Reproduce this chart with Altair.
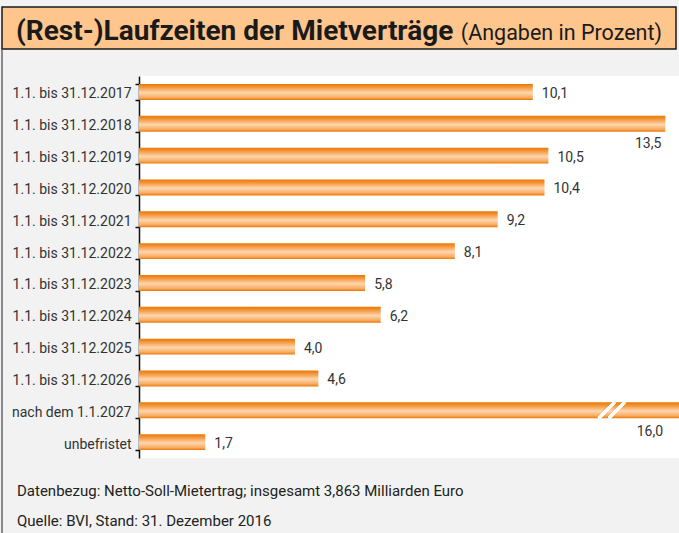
import altair as alt
import pandas as pd

categories = [
    "1.1. bis 31.12.2017", "1.1. bis 31.12.2018", "1.1. bis 31.12.2019",
    "1.1. bis 31.12.2020", "1.1. bis 31.12.2021", "1.1. bis 31.12.2022",
    "1.1. bis 31.12.2023", "1.1. bis 31.12.2024", "1.1. bis 31.12.2025",
    "1.1. bis 31.12.2026", "nach dem 1.1.2027", "unbefristet",
]
values = [10.1, 13.5, 10.5, 10.4, 9.2, 8.1, 5.8, 6.2, 4.0, 4.6, 16.0, 1.7]
labels = [f"{v:.1f}".replace(".", ",") for v in values]

title_main = "(Rest-)Laufzeiten der Mietverträge"
title_sub = "(Angaben in Prozent)"
note1 = "Datenbezug: Netto-Soll-Mietertrag; insgesamt 3,863 Milliarden Euro"
note2 = "Quelle: BVI, Stand: 31. Dezember 2016"

df = pd.DataFrame({"cat": categories, "val": values, "lab": labels})

FONT = "Roboto, sans-serif"

xscale = alt.Scale(domain=[0, 13.85], nice=False, clamp=True)
yscale = alt.Scale(domain=categories, paddingInner=0.5, paddingOuter=0.25)

grad = alt.Gradient(
    gradient="linear",
    x1=0, x2=0, y1=0, y2=1,
    stops=[
        alt.GradientStop(color="#ec7700", offset=0),
        alt.GradientStop(color="#f39438", offset=0.2),
        alt.GradientStop(color="#ffd6ad", offset=0.55),
        alt.GradientStop(color="#f8ab63", offset=0.85),
        alt.GradientStop(color="#ec7700", offset=1),
    ],
)

base = alt.Chart(df)

bars = base.mark_bar(color=grad, clip=True).encode(
    x=alt.X("val:Q", scale=xscale, axis=None),
    y=alt.Y(
        "cat:N", scale=yscale, sort=categories, title=None,
        axis=alt.Axis(
            domainColor="#111", domainWidth=1.5, tickColor="#111", tickWidth=1.5,
            tickSize=4, tickBand="extent", labelPadding=4, labelFontSize=14,
            labelColor="#333", labelFont=FONT, labelFontWeight="normal",
            labelOffset=2,
        ),
    ),
)

normal = base.transform_filter("datum.val < 13").mark_text(
    align="left", baseline="middle", dx=9, dy=2, fontSize=14, color="#333", font=FONT
).encode(x=alt.X("val:Q", scale=xscale), y=alt.Y("cat:N", scale=yscale, sort=categories), text="lab:N")

lab135 = base.transform_filter("datum.val >= 13 && datum.val < 15").mark_text(
    align="right", baseline="middle", dx=-4, dy=20, fontSize=14, color="#333", font=FONT
).encode(x=alt.X("val:Q", scale=xscale), y=alt.Y("cat:N", scale=yscale, sort=categories), text="lab:N")

lab16 = base.transform_filter("datum.val >= 15").mark_text(
    align="right", baseline="middle", dx=-16, dy=22, fontSize=14, color="#333", font=FONT
).encode(x=alt.X("val:Q", scale=xscale), y=alt.Y("cat:N", scale=yscale, sort=categories), text="lab:N")

brk1 = base.mark_rule(color="white", strokeWidth=2.5, yOffset=8, y2Offset=-8).encode(
    x=alt.datum(11.79), x2=alt.datum(12.2),
    y=alt.datum("nach dem 1.1.2027"), y2=alt.datum("nach dem 1.1.2027"),
)
brk2 = base.mark_rule(color="white", strokeWidth=2.5, yOffset=8, y2Offset=-8).encode(
    x=alt.datum(12.05), x2=alt.datum(12.46),
    y=alt.datum("nach dem 1.1.2027"), y2=alt.datum("nach dem 1.1.2027"),
)

deco = alt.Chart(pd.DataFrame({"a": [0]}))
band = deco.mark_rect(fill="#fec58d", stroke="#1a1a1a", strokeWidth=1.5).encode(
    x=alt.value(-137), x2=alt.value(537), y=alt.value(-69), y2=alt.value(-27)
)
leftline = deco.mark_rule(color="#666", strokeWidth=1.5).encode(
    x=alt.value(-137), y=alt.value(-27), y2=alt.value(457)
)
t_main = deco.mark_text(
    align="left", baseline="alphabetic", fontSize=28, fontWeight="bold", color="#1a1a1a", font=FONT
).encode(x=alt.value(-123), y=alt.value(-36), text=alt.value(title_main))
t_sub = deco.mark_text(
    align="right", baseline="alphabetic", fontSize=21.5, color="#1a1a1a", font=FONT
).encode(x=alt.value(523), y=alt.value(-36), text=alt.value(title_sub))
n1 = deco.mark_text(
    align="left", baseline="alphabetic", fontSize=15, color="#222", font=FONT
).encode(x=alt.value(-122), y=alt.value(420), text=alt.value(note1))
n2 = deco.mark_text(
    align="left", baseline="alphabetic", fontSize=15, color="#222", font=FONT
).encode(x=alt.value(-122), y=alt.value(450), text=alt.value(note2))

chart = alt.layer(
    bars, brk1, brk2, normal, lab135, lab16, band, leftline, t_main, t_sub, n1, n2
).properties(
    width=540, height=382,
    autosize=alt.AutoSizeParams(type="none"),
    padding={"left": 139, "top": 76, "right": 0, "bottom": 75},
    background="#f1f2f1",
).configure_view(fill="white", stroke=None)

chart.save("out.html", embed_options={"renderer": "svg", "actions": False})
